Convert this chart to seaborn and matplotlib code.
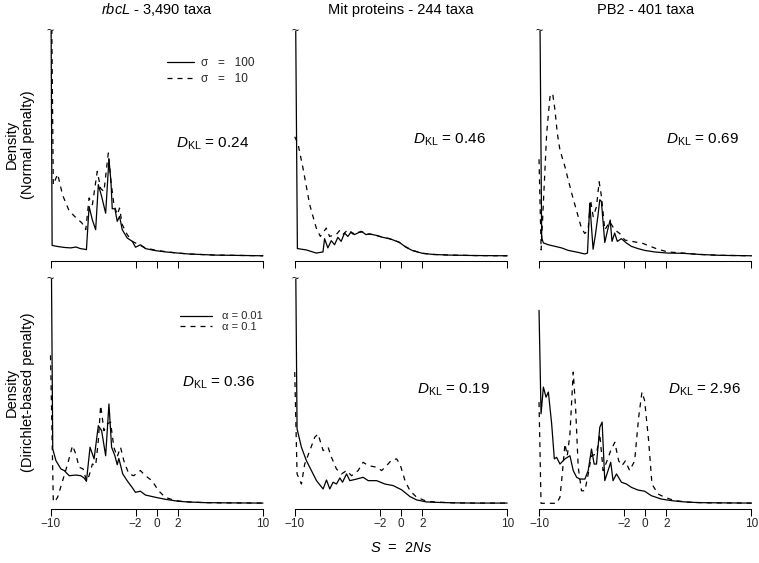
import matplotlib.pyplot as plt
import seaborn as sns
import pandas as pd
from matplotlib.lines import Line2D

# ---- data (density, scaled so the clipped top of each panel is 1.0) ----
titles = [r"$\mathit{rbcL}$ - 3,490 taxa", "Mit proteins - 244 taxa", "PB2 - 401 taxa"]
row_labels = ["Density\n(Normal penalty)", "Density\n(Dirichlet-based penalty)"]
legend_labels = [["σ   =   100", "σ   =   10"], ["α = 0.01", "α = 0.1"]]
dkl_values = [[0.24, 0.46, 0.69], [0.36, 0.19, 2.96]]
tick_values = [-10, -2, 0, 2, 10]
tick_labels = ["\u221210", "\u22122", "0", "2", "10"]

# rbcL, normal penalty
rbcl_norm_a_x = [-10, -9.85, -9.3, -8.7, -8.1, -7.6, -7.2, -6.8, -6.62, -6.37, -6.06, -5.75, -5.5, -5.19, -4.81,
                 -4.5, -4.31, -4.19, -3.94, -3.72, -3.5, -3.25, -2.78, -2.3, -2.0, -1.53, -1.07, -0.14, 0.86, 2.0,
                 3.0, 4.0, 5.5, 7.1, 10]
rbcl_norm_a_y = [1.6, 0.047, 0.042, 0.038, 0.036, 0.04, 0.033, 0.03, 0.028, 0.22, 0.16, 0.117, 0.317, 0.265, 0.19,
                 0.43, 0.33, 0.21, 0.21, 0.154, 0.176, 0.117, 0.08, 0.065, 0.039, 0.05, 0.033, 0.024, 0.018, 0.013,
                 0.009, 0.007, 0.004, 0.003, 0.001]
rbcl_norm_b_x = [-10, -9.74, -9.33, -8.86, -8.24, -7.6, -7.05, -6.68, -6.37, -6.06, -5.6, -5.28, -4.97, -4.56,
                 -4.31, -4.03, -3.72, -3.5, -3.25, -2.78, -2.3, -1.68, -1.07, -0.14, 0.86, 2.0, 3.0, 4.0, 5.5, 7.1, 10]
rbcl_norm_b_y = [1.6, 0.317, 0.364, 0.27, 0.2, 0.17, 0.147, 0.117, 0.258, 0.228, 0.376, 0.3, 0.287, 0.458, 0.33,
                 0.228, 0.184, 0.213, 0.14, 0.095, 0.065, 0.05, 0.036, 0.026, 0.019, 0.013, 0.009, 0.007, 0.004,
                 0.003, 0.001]

# Mit proteins, normal penalty
mit_norm_a_x = [-10, -9.75, -8.91, -7.97, -7.34, -7.19, -6.88, -6.56, -6.25, -5.94, -5.63, -5.31, -5.0, -4.69,
                -4.38, -4.06, -3.75, -3.28, -2.97, -2.34, -1.72, -1.09, -0.78, -0.16, 0.47, 1.09, 2.03, 3.0, 4.6,
                7.0, 10]
mit_norm_a_y = [1.6, 0.033, 0.027, 0.013, 0.018, 0.077, 0.036, 0.068, 0.05, 0.083, 0.065, 0.102, 0.087, 0.107,
                0.095, 0.102, 0.11, 0.095, 0.098, 0.092, 0.083, 0.077, 0.072, 0.061, 0.039, 0.024, 0.012, 0.007,
                0.004, 0.002, 0.001]
mit_norm_b_x = [-10, -9.7, -9.22, -8.59, -7.97, -7.59, -7.03, -6.72, -6.09, -5.78, -5.47, -5.0, -4.53, -4.22,
                -3.9, -3.6, -3.28, -2.97, -2.34, -1.72, -1.09, -0.78, -0.16, 0.47, 1.09, 2.03, 3.0, 4.6, 7.0, 10]
mit_norm_b_y = [0.53, 0.5, 0.39, 0.228, 0.124, 0.087, 0.124, 0.087, 0.095, 0.113, 0.095, 0.117, 0.098, 0.11,
                0.105, 0.108, 0.095, 0.098, 0.092, 0.083, 0.077, 0.072, 0.061, 0.04, 0.025, 0.012, 0.007, 0.004,
                0.002, 0.001]

# PB2, normal penalty
pb2_norm_a_x = [-10, -9.75, -9.59, -9.13, -8.5, -7.88, -7.25, -6.31, -5.69, -5.44, -5.22, -5.1, -4.91, -4.69,
                -4.44, -4.28, -4.13, -3.81, -3.5, -3.3, -3.13, -2.88, -2.63, -2.25, -1.78, -1.31, -0.69, -0.06,
                0.88, 2.13, 3.54, 5.1, 7.0, 10]
pb2_norm_a_y = [1.6, 0.08, 0.058, 0.05, 0.043, 0.036, 0.025, 0.016, 0.009, 0.013, 0.235, 0.154, 0.03, 0.095,
                0.184, 0.25, 0.243, 0.06, 0.124, 0.16, 0.065, 0.102, 0.065, 0.077, 0.058, 0.043, 0.033, 0.025,
                0.018, 0.013, 0.012, 0.007, 0.003, 0.001]
pb2_norm_b_x = [-10, -9.8, -9.28, -8.97, -8.72, -8.5, -8.28, -8.03, -7.56, -7.25, -6.84, -6.4, -6.0, -5.69, -5.38,
                -5.15, -4.9, -4.59, -4.34, -4.12, -3.81, -3.34, -2.87, -2.4, -1.93, -1.15, -0.22, 0.41, 1.2, 2.13,
                3.54, 5.1, 7.0, 10]
pb2_norm_b_y = [0.43, 0.027, 0.545, 0.708, 0.723, 0.649, 0.545, 0.471, 0.397, 0.338, 0.264, 0.19, 0.123, 0.1,
                0.116, 0.249, 0.175, 0.219, 0.33, 0.264, 0.116, 0.152, 0.116, 0.1, 0.071, 0.064, 0.056, 0.044,
                0.03, 0.018, 0.013, 0.007, 0.003, 0.001]

# rbcL, Dirichlet-based penalty
rbcl_dir_a_x = [-10, -9.79, -9.49, -9.02, -8.71, -8.24, -7.62, -7.15, -6.84, -6.62, -6.28, -5.9, -5.5, -5.19,
                -4.81, -4.5, -4.25, -3.94, -3.72, -3.57, -3.2, -2.79, -2.32, -2.01, -1.54, -1.07, -0.14, 0.79,
                2.04, 3.0, 4.5, 6.5, 10]
rbcl_dir_a_y = [1.6, 0.242, 0.19, 0.153, 0.146, 0.123, 0.126, 0.123, 0.113, 0.098, 0.25, 0.198, 0.346, 0.324,
                0.212, 0.443, 0.25, 0.212, 0.172, 0.2, 0.131, 0.101, 0.071, 0.049, 0.054, 0.037, 0.027, 0.018,
                0.009, 0.006, 0.003, 0.002, 0.001]
rbcl_dir_b_x = [-10, -9.74, -9.64, -9.33, -8.86, -8.39, -7.93, -7.62, -7.31, -6.93, -6.62, -6.37, -6.06, -5.75,
                -5.5, -5.28, -4.97, -4.65, -4.35, -4.04, -3.72, -3.41, -3.1, -2.63, -2.17, -1.54, -1.07, -0.45,
                0.17, 0.79, 1.73, 3.0, 4.5, 6.5, 10]
rbcl_dir_b_y = [0.66, 0.015, 0.005, 0.027, 0.101, 0.175, 0.257, 0.22, 0.161, 0.153, 0.101, 0.123, 0.175, 0.168,
                0.28, 0.436, 0.324, 0.354, 0.362, 0.25, 0.208, 0.25, 0.19, 0.131, 0.123, 0.146, 0.123, 0.101,
                0.056, 0.027, 0.012, 0.006, 0.003, 0.002, 0.001]

# Mit proteins, Dirichlet-based penalty
mit_dir_a_x = [-10, -9.78, -9.37, -8.9, -8.43, -7.95, -7.33, -7.01, -6.7, -6.39, -6.07, -5.75, -5.5, -5.12, -4.81,
               -4.18, -3.56, -3.08, -2.29, -1.51, -0.73, 0.07, 0.85, 1.48, 2.42, 3.5, 5.0, 7.0, 10]
mit_dir_a_y = [1.6, 0.332, 0.25, 0.19, 0.146, 0.101, 0.064, 0.104, 0.064, 0.094, 0.086, 0.113, 0.094, 0.131,
               0.101, 0.108, 0.116, 0.101, 0.101, 0.086, 0.079, 0.06, 0.03, 0.015, 0.006, 0.004, 0.002, 0.001,
               0.001]
mit_dir_b_x = [-10, -9.78, -9.37, -9.06, -8.58, -8.11, -7.8, -7.33, -6.86, -6.54, -6.07, -5.59, -5.12, -4.65,
               -4.03, -3.56, -3.08, -2.29, -1.82, -1.35, -0.88, -0.41, -0.09, 0.38, 0.85, 1.48, 2.42, 3.5, 5.0,
               7.0, 10]
mit_dir_b_y = [0.585, 0.131, 0.086, 0.175, 0.235, 0.295, 0.309, 0.235, 0.25, 0.205, 0.153, 0.131, 0.146, 0.123,
               0.146, 0.183, 0.168, 0.161, 0.146, 0.168, 0.193, 0.198, 0.175, 0.101, 0.056, 0.027, 0.009, 0.005,
               0.002, 0.001, 0.001]

# PB2, Dirichlet-based penalty
pb2_dir_a_x = [-10, -9.81, -9.59, -9.34, -9.12, -8.81, -8.56, -8.34, -8.03, -7.56, -7.09, -6.78, -6.46, -6.15,
               -5.68, -5.37, -5.06, -4.81, -4.59, -4.28, -4.06, -3.81, -3.5, -3.25, -3.03, -2.71, -2.24, -1.77,
               -1.3, -0.68, -0.06, 0.57, 1.51, 2.45, 3.5, 5.0, 7.0, 10]
pb2_dir_a_y = [0.86, 0.399, 0.518, 0.473, 0.496, 0.354, 0.198, 0.205, 0.175, 0.198, 0.212, 0.146, 0.116, 0.108,
               0.108, 0.146, 0.242, 0.175, 0.175, 0.339, 0.362, 0.101, 0.146, 0.183, 0.101, 0.131, 0.094, 0.086,
               0.071, 0.059, 0.054, 0.034, 0.019, 0.012, 0.007, 0.003, 0.002, 0.001]
pb2_dir_b_x = [-10, -9.81, -9.12, -8.34, -8.03, -7.81, -7.56, -7.34, -7.09, -6.78, -6.56, -6.31, -6.0, -5.68,
               -5.37, -5.06, -4.59, -4.28, -3.97, -3.65, -3.25, -2.87, -2.5, -2.19, -1.87, -1.47, -1.0, -0.62,
               -0.31, -0.06, 0.32, 0.63, 1.19, 1.82, 2.76, 4.0, 6.0, 10]
pb2_dir_b_y = [0.451, 0.0, 0.0, 0.0, 0.027, 0.131, 0.265, 0.212, 0.309, 0.585, 0.429, 0.161, 0.056, 0.056, 0.131,
               0.212, 0.22, 0.309, 0.146, 0.183, 0.235, 0.272, 0.189, 0.168, 0.189, 0.146, 0.189, 0.384, 0.496,
               0.458, 0.279, 0.086, 0.042, 0.027, 0.012, 0.005, 0.002, 0.001]

panels = [
    [((rbcl_norm_a_x, rbcl_norm_a_y), (rbcl_norm_b_x, rbcl_norm_b_y)),
     ((mit_norm_a_x, mit_norm_a_y), (mit_norm_b_x, mit_norm_b_y)),
     ((pb2_norm_a_x, pb2_norm_a_y), (pb2_norm_b_x, pb2_norm_b_y))],
    [((rbcl_dir_a_x, rbcl_dir_a_y), (rbcl_dir_b_x, rbcl_dir_b_y)),
     ((mit_dir_a_x, mit_dir_a_y), (mit_dir_b_x, mit_dir_b_y)),
     ((pb2_dir_a_x, pb2_dir_a_y), (pb2_dir_b_x, pb2_dir_b_y))],
]

# ---- style ----
sns.set_theme(style='white')
plt.rcParams['font.family'] = ['Liberation Sans', 'DejaVu Sans']
plt.rcParams['mathtext.fontset'] = 'custom'
plt.rcParams['mathtext.rm'] = 'Liberation Sans'
plt.rcParams['mathtext.it'] = 'Liberation Sans:italic'
plt.rcParams['mathtext.bf'] = 'Liberation Sans:bold'

W, H = 759, 563
fig = plt.figure(figsize=(W / 100, H / 100), dpi=100)

col_left = [48.4, 292.6, 536.9]
ax_w = 216.7
row_top = [31, 279]
row_h = [227.7, 227.0]

dkl_pos = [[(0.587, 0.49), (0.556, 0.507), (0.594, 0.507)],
           [(0.615, 0.526), (0.572, 0.496), (0.603, 0.496)]]
leg_pos = [(0.547, 0.824), (0.607, 0.812)]
leg_opts = [dict(handlelength=2.3, handletextpad=0.6, labelspacing=0.4, fontsize=8.5),
            dict(handlelength=2.9, handletextpad=0.9, labelspacing=0.05, fontsize=8)]

lw = 0.9
dash = (4, 4)

for r in range(2):
    for c in range(3):
        left = col_left[c] / W
        bottom = (H - row_top[r] - row_h[r]) / H
        ax = fig.add_axes([left, bottom, ax_w / W, row_h[r] / H])

        (xa, ya), (xb, yb) = panels[r][c]
        df = pd.concat([
            pd.DataFrame({'S': xa, 'density': ya, 'prior': legend_labels[r][0]}),
            pd.DataFrame({'S': xb, 'density': yb, 'prior': legend_labels[r][1]}),
        ], ignore_index=True)
        sns.lineplot(data=df, x='S', y='density', style='prior', style_order=legend_labels[r],
                     dashes={legend_labels[r][0]: '', legend_labels[r][1]: dash},
                     color='black', lw=lw, estimator=None, sort=False, legend=False, ax=ax)

        ax.set_xlim(-10.2, 10.2)
        ax.set_ylim(-0.012, 1.0)
        for s in ['left', 'right', 'top']:
            ax.spines[s].set_visible(False)
        ax.spines['bottom'].set_position(('outward', 2))
        ax.spines['bottom'].set_bounds(-10, 10)
        ax.spines['bottom'].set_color('black')
        ax.spines['bottom'].set_linewidth(0.75)
        ax.set_yticks([])
        ax.set_xticks(tick_values)
        ax.tick_params(axis='x', direction='out', length=5, width=0.75, color='black',
                       pad=1.5, labelsize=8.5, bottom=True)
        if r == 1:
            ax.set_xticklabels(tick_labels)
        else:
            ax.set_xticklabels([])
        ax.set_xlabel('')
        ax.set_ylabel('')

        # break mark where the spike runs off the top
        if max(ya) > 1 or max(yb) > 1:
            ax.text(-10, 1.0, '~', ha='center', va='center', fontsize=9, color='black')

        dx, dy = dkl_pos[r][c]
        ax.text(dx, dy, r'$D_{\mathrm{KL}}$ = ' + f'{dkl_values[r][c]:.2f}', transform=ax.transAxes,
                ha='left', va='baseline', fontsize=11, color='black')

        if r == 0:
            ax.set_title(titles[c], fontsize=10.5, pad=12, color='black')
        if c == 0:
            ax.set_ylabel(row_labels[r], fontsize=10.5, labelpad=10, color='black')
            handles = [Line2D([], [], color='black', lw=lw),
                       Line2D([], [], color='black', lw=lw, dashes=dash)]
            ax.legend(handles, legend_labels[r], loc='center left', bbox_to_anchor=leg_pos[r],
                      frameon=False, borderpad=0, borderaxespad=0, **leg_opts[r])

fig.text(401 / W, 1 - 548 / H, r'$S$  =  2$Ns$', ha='center', va='center', fontsize=10.5, color='black')

fig.savefig('out.png', dpi=100)
